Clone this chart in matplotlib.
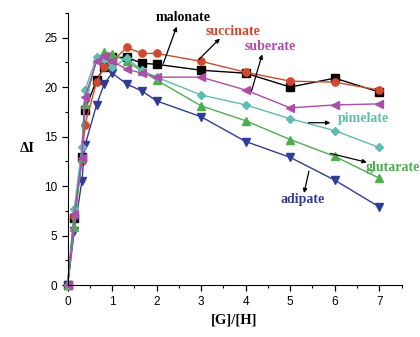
import numpy as np
import matplotlib
matplotlib.use("Agg")
import matplotlib.pyplot as plt

# titration data
ratio = [0, 0.15, 0.32, 0.39, 0.65, 0.82, 1.0, 1.33, 1.67, 2, 3, 4, 5, 6, 7]

malonate  = [0, 6.8, 12.9, 17.7, 20.7, 22.0, 23.0, 23.0, 22.4, 22.3, 21.7, 21.4, 20.0, 20.9, 19.5]
succinate = [0, 7.0, 12.5, 16.2, 20.5, 22.0, 22.6, 24.0, 23.4, 23.4, 22.6, 21.5, 20.6, 20.5, 19.7]
glutarate = [0, 5.9, 12.8, 18.3, 22.8, 23.5, 23.3, 22.6, 21.6, 20.7, 18.1, 16.6, 14.7, 13.0, 10.8]
adipate   = [0, 5.5, 10.5, 14.1, 18.2, 20.3, 21.4, 20.3, 19.6, 18.6, 17.0, 14.5, 12.9, 10.6, 7.9]
pimelate  = [0, 7.7, 13.9, 19.7, 23.0, 22.8, 22.0, 22.9, 21.7, 21.0, 19.2, 18.2, 16.8, 15.6, 13.9]
suberate  = [0, 7.2, 12.8, 19.0, 22.6, 23.1, 22.6, 21.8, 21.4, 21.0, 21.0, 19.7, 17.9, 18.2, 18.3]

series = [
    ("malonate", malonate, "black", "s"),
    ("succinate", succinate, "#d4472a", "o"),
    ("adipate", adipate, "#2f3c9c", "v"),
    ("glutarate", glutarate, "#4caf4a", "^"),
    ("pimelate", pimelate, "#5cbdb3", "D"),
    ("suberate", suberate, "#b04aac", "<"),
]

# label text position, arrow tail (on curve), arrow head (near label)
labels = {
    "malonate": ((2.6, 27.0), (2.15, 22.4), (2.45, 26.1)),
    "succinate": ((3.72, 25.6), (2.95, 22.8), (3.42, 24.9)),
    "suberate": ((4.55, 24.1), (4.13, 19.6), (4.37, 23.3)),
    "pimelate": ((6.65, 16.8), (5.41, 16.4), (5.9, 16.4)),
    "glutarate": ((7.3, 11.9), (5.9, 13.3), (6.72, 12.4)),
    "adipate": ((5.27, 8.6), (5.42, 11.5), (5.31, 9.3)),
}

plt.rcParams["font.family"] = ["Liberation Sans", "DejaVu Sans"]

fig = plt.figure(figsize=(4.2, 3.37), dpi=100)
ax = fig.add_axes([0.161, 0.154, 0.795, 0.808])

for name, vals, col, mk in series:
    ms = 4.5 if mk == "D" else 5.2
    ax.plot(ratio, vals, color=col, marker=mk, ms=ms, lw=1.0, clip_on=False)

for name, vals, col, mk in series:
    (tx, ty), tail, head = labels[name]
    ax.annotate("", xy=head, xytext=tail,
                arrowprops=dict(arrowstyle="-|>", color="black", lw=0.9,
                                mutation_scale=6, shrinkA=0, shrinkB=0),
                annotation_clip=False)
    ax.text(tx, ty, name, color=col, ha="center", va="center",
            fontsize=10, fontweight="bold", family="Liberation Serif",
            clip_on=False)

ax.set_xlim(0, 7.5)
ax.set_ylim(0, 27.5)
ax.set_xticks(range(0, 8))
ax.set_yticks(range(0, 26, 5))
ax.set_xticks(np.arange(0.5, 7.6, 1), minor=True)
ax.set_yticks(np.arange(2.5, 27.6, 5), minor=True)
ax.tick_params(which="major", direction="out", length=4, width=0.9, labelsize=8.5)
ax.tick_params(which="minor", direction="out", length=2.5, width=0.8)
ax.spines["top"].set_visible(False)
ax.spines["right"].set_visible(False)

ax.set_xlabel("[G]/[H]", fontsize=10.5, fontweight="bold", family="Liberation Serif")
ax.set_ylabel("ΔI", fontsize=10.5, fontweight="bold", family="Liberation Serif",
              rotation=0, labelpad=12, va="center")

fig.savefig("out.png", dpi=100)
